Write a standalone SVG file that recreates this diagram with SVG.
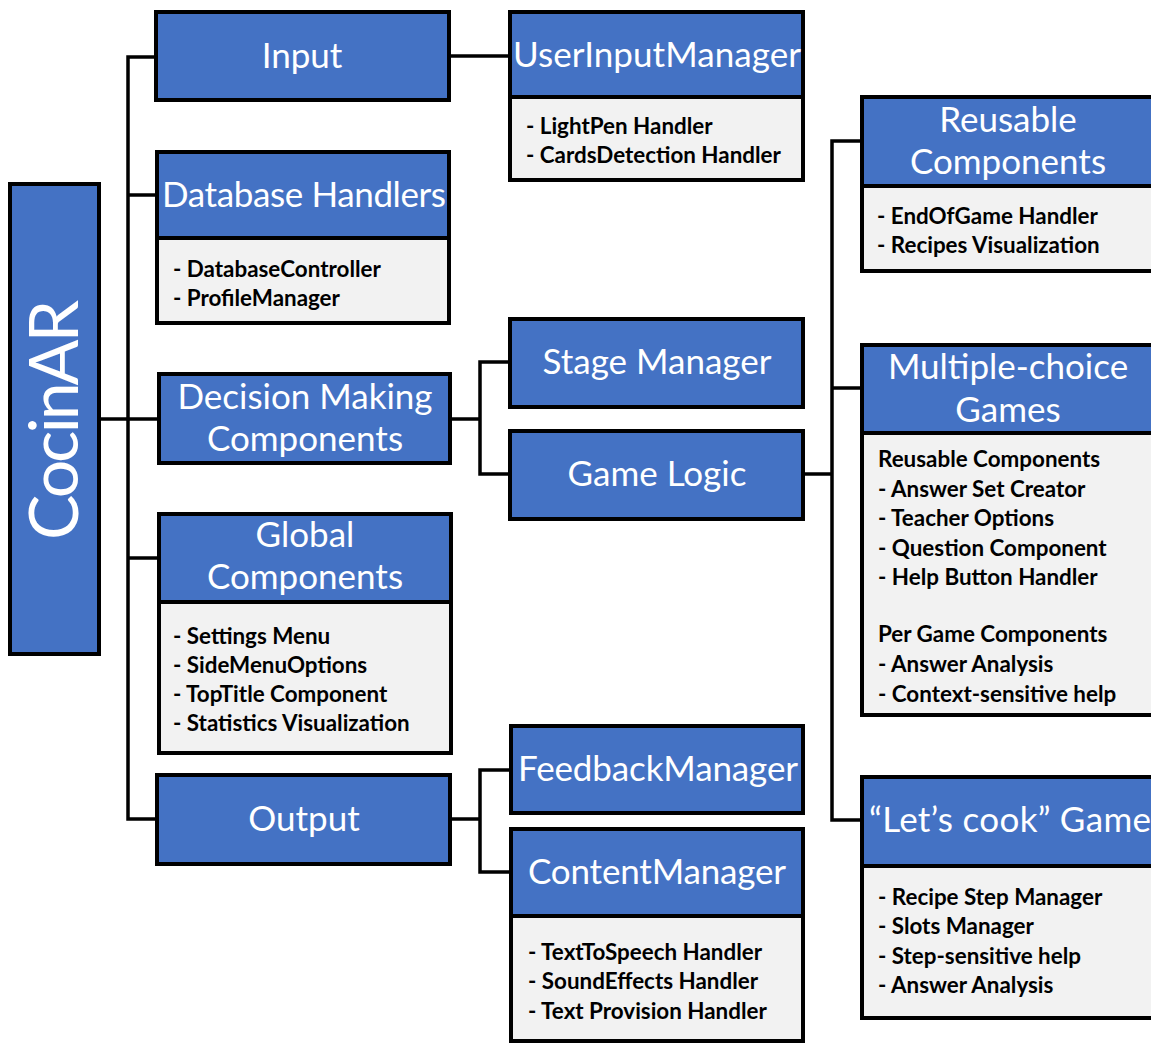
<svg xmlns="http://www.w3.org/2000/svg" width="1151" height="1047" viewBox="0 0 1151 1047">
<style>
.hdr{fill:#4472c4;stroke:#000;stroke-width:4}
.body{fill:#f2f2f2;stroke:#000;stroke-width:4}
.ht{fill:#fff;font-family:Lato,"Noto Sans",sans-serif;font-size:35px;text-anchor:middle}
.bt{fill:#000;font-family:Lato,"Noto Sans",sans-serif;font-size:22.4px;font-weight:bold}
.conn{fill:none;stroke:#000;stroke-width:3.5}
</style>
<rect width="1151" height="1047" fill="#fff"/>
<g id="connectors" class="conn">
<path d="M156 57 H128 V819 H157"/>
<path d="M128 195 H157"/>
<path d="M100 419 H159"/>
<path d="M128 558 H159"/>
<path d="M449 56 H510"/>
<path d="M450 419 H480"/>
<path d="M510 362 H480 V474 H510"/>
<path d="M450 819 H480"/>
<path d="M511 770 H480 V872 H511"/>
<path d="M803 474 H832"/>
<path d="M862 141 H832 V820 H862"/>
<path d="M832 388 H862"/>
</g>
<g id="cocinar">
<rect class="hdr" x="10" y="184" width="89" height="470"/>
<text class="ht" transform="translate(78,420) rotate(-90)" style="font-size:68px" textLength="240">CocinAR</text>
</g>
<g id="input">
<rect class="hdr" x="156" y="12" width="293" height="88"/>
<text class="ht" x="302" y="68">Input</text>
</g>
<g id="database">
<rect class="hdr" x="157" y="152" width="292" height="86"/>
<rect class="body" x="157" y="238" width="292" height="85"/>
<text class="ht" x="304" y="207" textLength="284">Database Handlers</text>
<text class="bt" x="173" y="277">- DatabaseController</text>
<text class="bt" x="173" y="306">- ProfileManager</text>
</g>
<g id="decision">
<rect class="hdr" x="159" y="374" width="291" height="89"/>
<text class="ht" x="305" y="409">Decision Making</text>
<text class="ht" x="305" y="451">Components</text>
</g>
<g id="global">
<rect class="hdr" x="159" y="514" width="292" height="88"/>
<rect class="body" x="159" y="602" width="292" height="151"/>
<text class="ht" x="305" y="547">Global</text>
<text class="ht" x="305" y="589">Components</text>
<text class="bt" x="173" y="644">- Settings Menu</text>
<text class="bt" x="173" y="673">- SideMenuOptions</text>
<text class="bt" x="173" y="702">- TopTitle Component</text>
<text class="bt" x="173" y="731">- Statistics Visualization</text>
</g>
<g id="output">
<rect class="hdr" x="157" y="775" width="293" height="89"/>
<text class="ht" x="304" y="831">Output</text>
</g>
<g id="userinputmanager">
<rect class="hdr" x="510" y="12" width="293" height="85"/>
<rect class="body" x="510" y="97" width="293" height="83"/>
<text class="ht" x="657" y="67" textLength="288">UserInputManager</text>
<text class="bt" x="526" y="134">- LightPen Handler</text>
<text class="bt" x="526" y="163">- CardsDetection Handler</text>
</g>
<g id="stagemanager">
<rect class="hdr" x="510" y="319" width="293" height="88"/>
<text class="ht" x="657" y="374">Stage Manager</text>
</g>
<g id="gamelogic">
<rect class="hdr" x="510" y="431" width="293" height="88"/>
<text class="ht" x="657" y="486">Game Logic</text>
</g>
<g id="feedbackmanager">
<rect class="hdr" x="511" y="726" width="292" height="87"/>
<text class="ht" x="658" y="781" textLength="280">FeedbackManager</text>
</g>
<g id="contentmanager">
<rect class="hdr" x="511" y="829" width="292" height="87"/>
<rect class="body" x="511" y="916" width="292" height="125"/>
<text class="ht" x="657" y="884" textLength="258">ContentManager</text>
<text class="bt" x="528" y="960">- TextToSpeech Handler</text>
<text class="bt" x="528" y="989">- SoundEffects Handler</text>
<text class="bt" x="528" y="1019">- Text Provision Handler</text>
</g>
<g id="reusable">
<rect class="hdr" x="862" y="97" width="296" height="89"/>
<rect class="body" x="862" y="186" width="296" height="85"/>
<text class="ht" x="1008" y="132">Reusable</text>
<text class="ht" x="1008" y="174">Components</text>
<text class="bt" x="877" y="224">- EndOfGame Handler</text>
<text class="bt" x="877" y="253">- Recipes Visualization</text>
</g>
<g id="multiplechoice">
<rect class="hdr" x="862" y="345" width="296" height="88"/>
<rect class="body" x="862" y="433" width="296" height="282"/>
<text class="ht" x="1008" y="379">Multiple-choice</text>
<text class="ht" x="1008" y="422">Games</text>
<text class="bt" x="878" y="467">Reusable Components</text>
<text class="bt" x="878" y="497">- Answer Set Creator</text>
<text class="bt" x="878" y="526">- Teacher Options</text>
<text class="bt" x="878" y="556">- Question Component</text>
<text class="bt" x="878" y="585">- Help Button Handler</text>
<text class="bt" x="878" y="642">Per Game Components</text>
<text class="bt" x="878" y="672">- Answer Analysis</text>
<text class="bt" x="878" y="702">- Context-sensitive help</text>
</g>
<g id="letscook">
<rect class="hdr" x="862" y="777" width="296" height="89"/>
<rect class="body" x="862" y="866" width="296" height="152"/>
<text class="ht" x="869" y="832" style="text-anchor:start" textLength="282">“Let’s cook” Game</text>
<text class="bt" x="878" y="905">- Recipe Step Manager</text>
<text class="bt" x="878" y="934">- Slots Manager</text>
<text class="bt" x="878" y="964">- Step-sensitive help</text>
<text class="bt" x="878" y="993">- Answer Analysis</text>
</g>
</svg>
